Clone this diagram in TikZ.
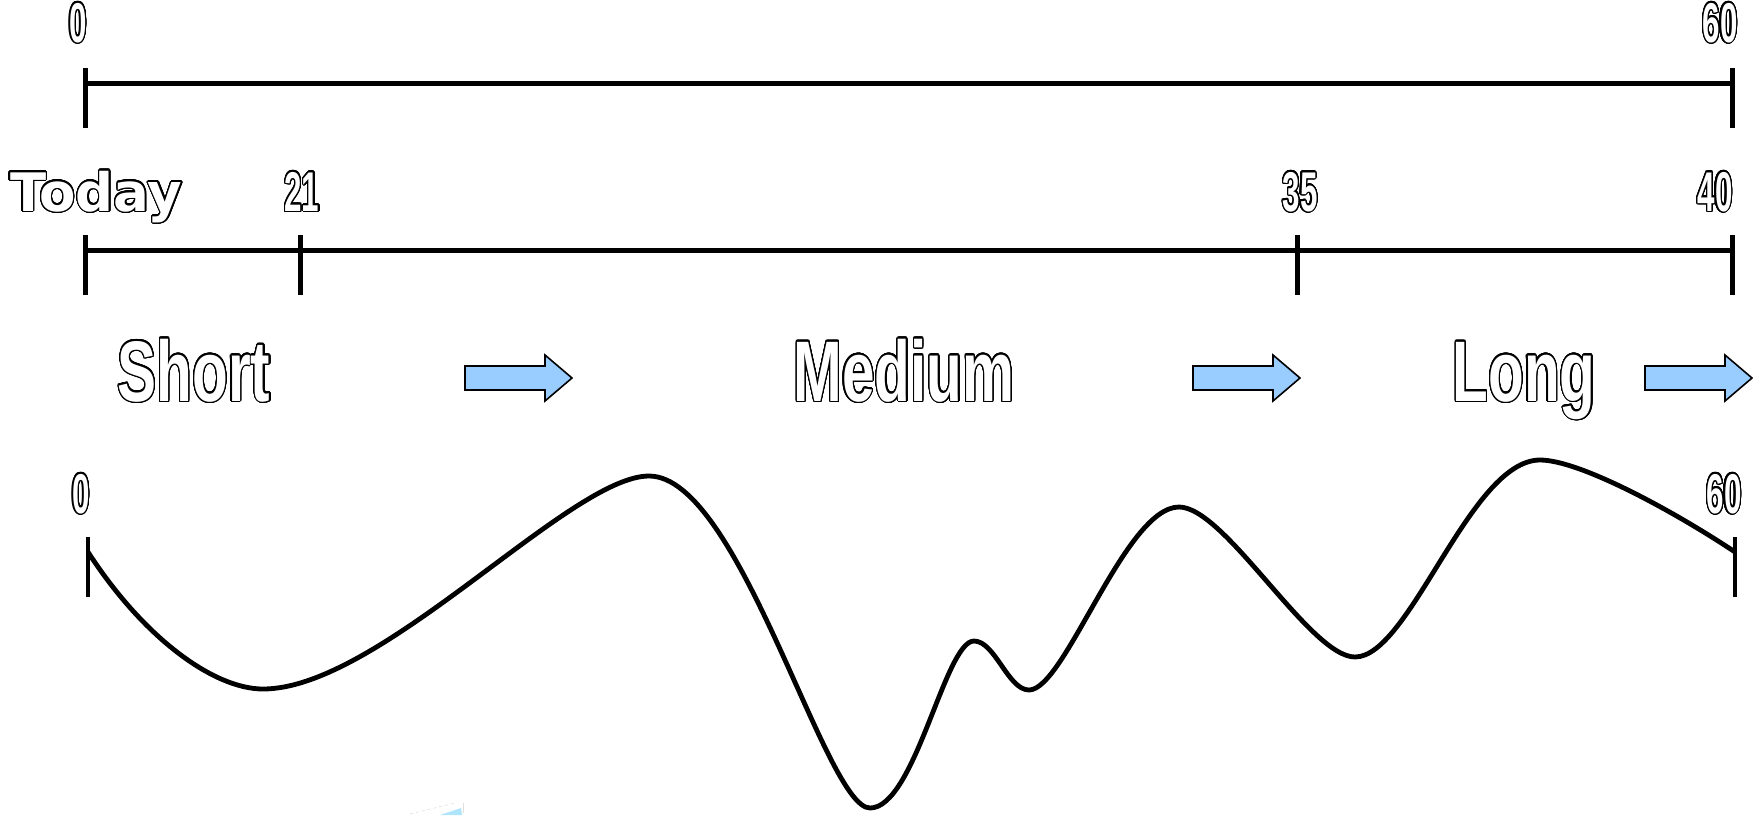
\documentclass[tikz,border=0pt]{standalone}
\usepackage{fontspec}
\usepackage{contour}
\contourlength{1.3pt}
\contournumber{32}
\newfontfamily\condfont{Liberation Sans}[FakeStretch=0.68]
\newfontfamily\numfont{Liberation Sans}[FakeStretch=0.56]
\newfontfamily\widefont{DejaVu Sans}
\definecolor{arrowblue}{HTML}{99CCFF}
\newcommand\olabel[1]{{\color{white}\contour{black}{#1}}}
\tikzset{
  axisline/.style={line width=5pt},
  tickmark/.style={line width=5pt},
  wave/.style={line width=4.8pt, line join=round},
  numlabel/.style={inner sep=0pt, anchor=base, font=\numfont\bfseries\fontsize{56}{58}\selectfont},
  wordlabel/.style={inner sep=0pt, anchor=base, font=\condfont\bfseries\fontsize{86}{90}\selectfont},
  todaylabel/.style={inner sep=0pt, anchor=base west, font=\widefont\bfseries\fontsize{53}{55}\selectfont},
  fwd/.style={fill=arrowblue, draw=black, line width=1.6pt, line join=miter},
  fwdarrow/.pic={\draw[fwd] (0,-12) -- (80,-12) -- (80,-23) -- (107,0) -- (80,23) -- (80,12) -- (0,12) -- cycle;}
}
\begin{document}
\begin{tikzpicture}[x=1pt,y=-1pt]
\useasboundingbox (0,0) rectangle (1759,815);
\fill[white] (0,0) rectangle (1759,815);

% top scale
\node[numlabel] (t0) at (78,42) {\olabel{0}};
\node[numlabel] (t60) at (1720,42) {\olabel{60}};
\draw[axisline] (85,83) -- (1732,83);
\draw[tickmark] (85,68) -- (85,128);
\draw[tickmark] (1732,68) -- (1732,128);

% second scale
\node[todaylabel] (today) at (10,211) {\olabel{Today}};
\node[numlabel] (m21) at (302,211) {\olabel{21}};
\node[numlabel] (m35) at (1300,211) {\olabel{35}};
\node[numlabel] (m40) at (1715,211) {\olabel{40}};
\draw[axisline] (85,250) -- (1732,250);
\foreach \xx in {85,300,1297,1732} \draw[tickmark] (\xx,235) -- (\xx,295);

% horizon words and arrows
\node[wordlabel] (short) at (194,401) {\olabel{Short}};
\node[wordlabel] (medium) at (904,401) {\olabel{Medium}};
\node[wordlabel] (long) at (1524,401) {\olabel{Long}};
\pic at (465,378) {fwdarrow};
\pic at (1193,378) {fwdarrow};
\pic at (1645,378) {fwdarrow};

% bottom wave
\node[numlabel] (b0) at (81,513) {\olabel{0}};
\node[numlabel] (b60) at (1724,513) {\olabel{60}};
\draw[tickmark, line width=4.5pt] (88,537) -- (88,597);
\draw[tickmark, line width=4.5pt] (1735,537) -- (1735,597);
\draw[wave] (88,552)
  .. controls (145,640) and (215,689) .. (263,689)
  .. controls (380,689) and (570,476) .. (649,476)
  .. controls (740,476) and (825,808) .. (870,808)
  .. controls (915,808) and (945,641) .. (974,641)
  .. controls (995,641) and (1008,690) .. (1029,690)
  .. controls (1065,690) and (1125,507) .. (1179,507)
  .. controls (1225,507) and (1310,657) .. (1355,657)
  .. controls (1410,657) and (1470,460) .. (1540,460)
  .. controls (1580,460) and (1675,512) .. (1735,552);

% faint artifact at bottom edge
\fill[cyan!45, opacity=0.7] (440,815) -- (461,808) -- (462,815) -- cycle;
\draw[gray!25, dashed, line width=0.6pt] (410,814) -- (455,803);
\draw[gray!25, line width=0.6pt] (463,803) -- (463,813);
\end{tikzpicture}
\end{document}
